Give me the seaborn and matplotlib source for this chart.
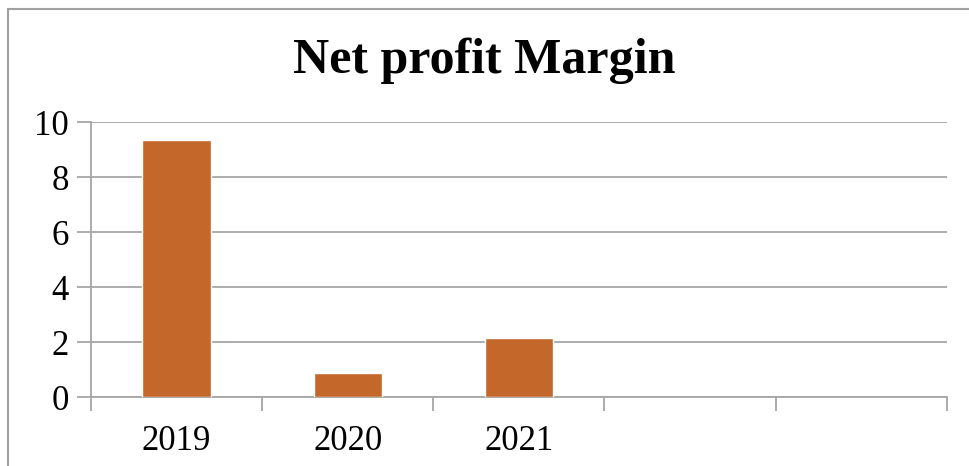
import pandas as pd
import numpy as np
import matplotlib.pyplot as plt
import seaborn as sns
from matplotlib.patches import Rectangle

# Chart data
years = ["2019", "2020", "2021"]
margin = [9.35, 0.87, 2.15]
n_slots = 5  # the chart keeps two empty category slots on the right

df = pd.DataFrame({"year": years, "margin": margin})

sns.set_style("white")
plt.rcParams["font.family"] = ["Liberation Serif", "DejaVu Serif"]
plt.rcParams["text.color"] = "black"
plt.rcParams["xtick.color"] = "black"
plt.rcParams["ytick.color"] = "black"

fig = plt.figure(figsize=(9.69, 4.66), dpi=100)
ax = fig.add_axes([0.094, 0.148, 0.883, 0.59])

sns.barplot(data=df, x="year", y="margin", color="#C4672A", width=0.4,
            saturation=1, ax=ax, zorder=3)

ax.set_xlim(-0.5, n_slots - 0.5)
ax.set_ylim(0, 10)
ax.set_yticks(np.arange(0, 11, 2))
ax.yaxis.grid(True, color="#A6A6A6", linewidth=1.3, zorder=0)
ax.set_xlabel("")
ax.set_ylabel("")

# category boundary ticks below the axis
ax.set_xticks(np.arange(-0.5, n_slots, 1), minor=True)
ax.tick_params(axis="x", which="minor", bottom=True, length=10, width=1.3,
               color="#A6A6A6", direction="out")
ax.tick_params(axis="x", which="major", bottom=True, length=0, labelsize=25,
               pad=20, labelcolor="black")
ax.tick_params(axis="y", length=10, width=1.3, color="#A6A6A6", labelsize=25,
               pad=6, left=True, labelcolor="black")

for side in ["top", "right"]:
    ax.spines[side].set_visible(False)
for side in ["left", "bottom"]:
    ax.spines[side].set_color("#A6A6A6")
    ax.spines[side].set_linewidth(1.3)

fig.text(0.5, 0.87, "Net profit Margin", ha="center", va="center",
         fontsize=36, fontweight="bold", color="black")

# outer chart border (only left and top visible in the crop)
fig.patches.append(Rectangle((0.0085, -0.1), 1.1, 1.081, transform=fig.transFigure,
                             fill=False, edgecolor="#A0A0A0", linewidth=1.5))

plt.savefig("out.png", dpi=100)
